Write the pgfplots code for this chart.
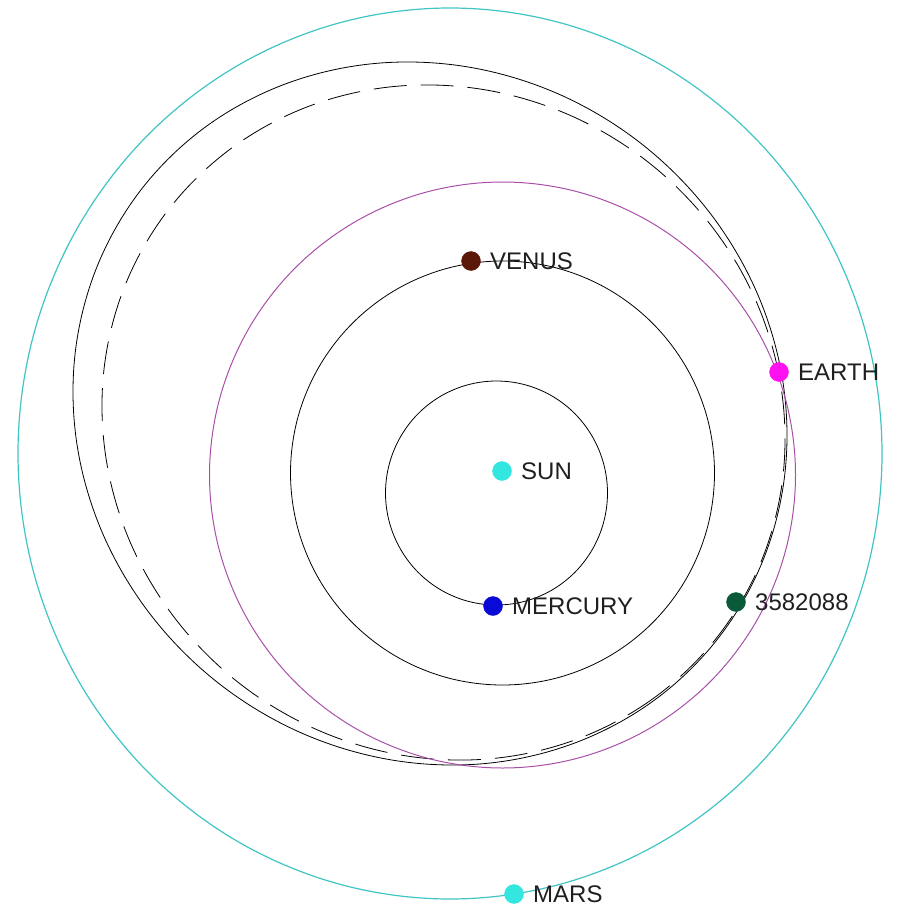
\documentclass[border=0pt]{standalone}
\usepackage{fontspec}
\setmainfont{Liberation Sans}
\usepackage{pgfplots}
\pgfplotsset{compat=1.18}

\definecolor{suncol}{HTML}{33E6E0}
\definecolor{marsorb}{HTML}{40C4C4}
\definecolor{earthorb}{HTML}{A850A8}
\definecolor{earthcol}{HTML}{FF10F0}
\definecolor{venuscol}{HTML}{5A1808}
\definecolor{mercol}{HTML}{0A0AD8}
\definecolor{astcol}{HTML}{0A5A3A}

\pgfplotsset{
  body/.style={only marks, mark=*, mark size=9.5pt, forget plot,
    nodes near coords style={anchor=west, inner sep=0pt, xshift=19pt,
      text=black!88, font=\fontsize{24}{28}\selectfont}},
  orbit/.style={smooth cycle, tension=0.6, no marks, line width=0.8pt, forget plot},
}

\begin{document}
\begin{tikzpicture}
\begin{axis}[
    width=901pt, height=907pt, scale only axis,
    xmin=0, xmax=901, ymin=0, ymax=907,
    y dir=reverse, hide axis, clip=false,
  ]
% frame of the picture (pixel coordinates, y downwards)
\addplot[draw=none, forget plot] coordinates {(0,0) (901,907)};

% bodies
\addplot[body, color=suncol, nodes near coords={SUN}] coordinates {(502,471)};
\addplot[body, color=earthcol, nodes near coords={EARTH}] coordinates {(779,372)};
\addplot[body, color=venuscol, nodes near coords={VENUS}] coordinates {(471,261)};
\addplot[body, color=mercol, nodes near coords={MERCURY}] coordinates {(493,606)};
\addplot[body, color=astcol, nodes near coords={3582088}] coordinates {(736,602)};
\addplot[body, color=suncol, nodes near coords={MARS}] coordinates {(514,894)};

% Mars orbit
\addplot[orbit, color=marsorb, line width=1.2pt] coordinates {
 (882,453.5) (867.3,568.8) (824.1,676.3) (755.5,768.5) (666,839.3) (561.8,883.8)
 (450,899) (338.2,883.8) (234,839.3) (144.5,768.5) (75.9,676.3) (32.7,568.8)
 (18,453.5) (32.7,338.2) (75.9,230.7) (144.5,138.5) (234,67.7) (338.2,23.2)
 (450,8) (561.8,23.2) (666,67.7) (755.5,138.5) (824.1,230.7) (867.3,338.2)};

% orbit of 3582088
\addplot[orbit, color=black] coordinates {
 (717.9,638.6) (653.5,700.8) (573.7,743.4) (484.3,763.6) (391.2,759.9) (300.6,732.6)
 (218.9,683.5) (151.6,616) (103.2,534.7) (77.1,445.2) (75.1,353.6) (97.3,266)
 (142.1,188.4) (206.5,126.2) (286.3,83.6) (375.7,63.4) (468.8,67.1) (559.4,94.4)
 (641.1,143.5) (708.4,211) (756.8,292.3) (782.9,381.8) (784.9,473.4) (762.7,561)};

% dashed orbit
\addplot[orbit, color=black, dash pattern=on 33pt off 14pt] coordinates {
 (717.5,636.7) (655.4,696.9) (578.8,738.5) (493,758.5) (403.8,755.5) (317.4,729.9)
 (239.5,683.4) (175.6,619.1) (129.8,541.3) (105.6,455.5) (104.2,367.5) (126,283.1)
 (169.5,208.3) (231.6,148.1) (308.2,106.5) (394,86.5) (483.2,89.5) (569.6,115.1)
 (647.5,161.6) (711.4,225.9) (757.2,303.7) (781.4,389.5) (782.8,477.5) (761,561.9)};

% Earth orbit
\addplot[orbit, color=earthorb, line width=1pt] coordinates {
 (795.5,475) (785.5,550.8) (756.2,621.5) (709.7,682.2) (649,728.7) (578.3,758)
 (502.5,768) (426.7,758) (356,728.7) (295.3,682.2) (248.8,621.5) (219.5,550.8)
 (209.5,475) (219.5,399.2) (248.8,328.5) (295.3,267.8) (356,221.3) (426.7,192)
 (502.5,182) (578.3,192) (649,221.3) (709.7,267.8) (756.2,328.5) (785.5,399.2)};

% Venus orbit
\addplot[orbit, color=black] coordinates {
 (714.5,473) (707.3,527.9) (686.1,579) (652.4,622.9) (608.5,656.6) (557.4,677.8)
 (502.5,685) (447.6,677.8) (396.5,656.6) (352.6,622.9) (318.9,579) (297.7,527.9)
 (290.5,473) (297.7,418.1) (318.9,367) (352.6,323.1) (396.5,289.4) (447.6,268.2)
 (502.5,261) (557.4,268.2) (608.5,289.4) (652.4,323.1) (686.1,367) (707.3,418.1)};

% Mercury orbit
\addplot[orbit, color=black] coordinates {
 (607.5,493) (603.7,522) (592.6,549) (575,572.2) (552,590) (525.2,601.2)
 (496.5,605) (467.8,601.2) (441,590) (418,572.2) (400.4,549) (389.3,522)
 (385.5,493) (389.3,464) (400.4,437) (418,413.8) (441,396) (467.8,384.8)
 (496.5,381) (525.2,384.8) (552,396) (575,413.8) (592.6,437) (603.7,464)};
\end{axis}
\end{tikzpicture}
\end{document}
